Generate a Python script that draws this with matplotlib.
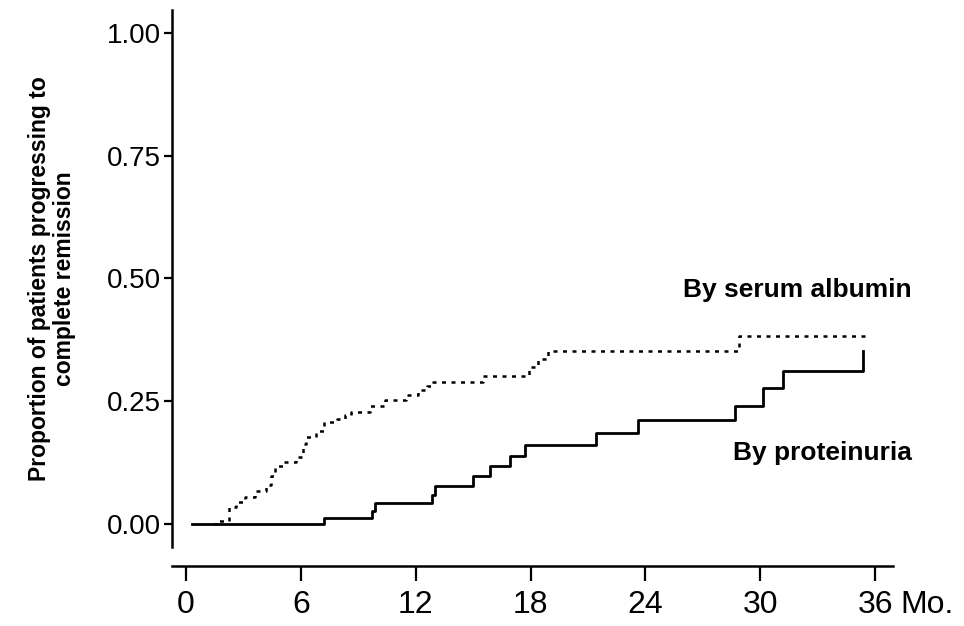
import matplotlib.pyplot as plt
from matplotlib import font_manager

# step curves (months, cumulative proportion)
prot_t = [0.3, 7.2, 9.7, 9.86, 12.87, 13.02, 15.0, 15.9, 16.9, 17.7, 21.4, 23.6, 28.7, 30.15, 31.2, 35.35]
prot_p = [0.0, 0.012, 0.027, 0.043, 0.059, 0.078, 0.098, 0.119, 0.139, 0.160, 0.185, 0.212, 0.241, 0.276, 0.312, 0.353]
prot_end = 35.35

alb_t = [1.4, 1.6, 2.25, 2.6, 3.1, 3.6, 4.2, 4.45, 4.65, 5.1, 5.75, 6.1, 6.25, 6.8, 7.2, 7.9,
         8.3, 8.6, 9.6, 10.4, 11.5, 12.1, 12.6, 12.9, 15.5, 17.9, 18.4, 18.9, 28.9]
alb_p = [0.0, 0.005, 0.035, 0.045, 0.055, 0.068, 0.080, 0.097, 0.118, 0.127, 0.137, 0.162, 0.178, 0.190,
         0.208, 0.213, 0.222, 0.229, 0.240, 0.253, 0.263, 0.273, 0.281, 0.290, 0.301, 0.320, 0.335, 0.353, 0.383]
alb_end = 35.6

xticks = [0, 6, 12, 18, 24, 30, 36]
yticks = [0.0, 0.25, 0.50, 0.75, 1.00]
ytick_labels = ['0.00', '0.25', '0.50', '0.75', '1.00']

installed = {f.name for f in font_manager.fontManager.ttflist}
narrow = 'Liberation Sans Narrow' if 'Liberation Sans Narrow' in installed else 'Liberation Sans'
plt.rcParams['font.family'] = ['Liberation Sans', 'DejaVu Sans']

fig = plt.figure(figsize=(9.64, 6.26), dpi=100)
ax = fig.add_axes([172 / 964, 1 - 547 / 626, (893 - 172) / 964, (547 - 10) / 626])

ax.step(prot_t + [prot_end], prot_p + [prot_p[-1]], where='post', color='black', lw=2.0)
ax.step(alb_t + [alb_end], alb_p + [alb_p[-1]], where='post', color='black', lw=1.8,
        linestyle=(0, (1.6, 2.2)))

ax.set_xlim(-0.73, 36.93)
ax.set_ylim(-0.047, 1.047)

for s in ['top', 'right']:
    ax.spines[s].set_visible(False)
ax.spines['left'].set_linewidth(1.8)
ax.spines['bottom'].set_linewidth(1.8)
ax.spines['bottom'].set_position(('outward', 13.7))

ax.set_yticks(yticks)
ax.set_yticklabels(ytick_labels)
ax.set_xticks(xticks)
ax.tick_params(axis='y', length=6, width=1.6, labelsize=20, pad=2)
ax.tick_params(axis='x', length=11, width=1.6, labelsize=23, pad=6)
for lab in ax.get_xticklabels():
    lab.set_family(narrow)

ax.set_ylabel('Proportion of patients progressing to\ncomplete remission',
              fontsize=16.5, fontweight='bold', labelpad=22, linespacing=1.15)

ax.text(37.9, 0.477, 'By serum albumin', ha='right', va='center', fontsize=19,
        fontweight='bold', clip_on=False)
ax.text(37.9, 0.145, 'By proteinuria', ha='right', va='center', fontsize=19,
        fontweight='bold', clip_on=False)
fig.text(900 / 964, 1 - 605 / 626, 'Mo.', ha='left', va='center', fontsize=23, family=narrow)

fig.savefig('out.png', dpi=100)
